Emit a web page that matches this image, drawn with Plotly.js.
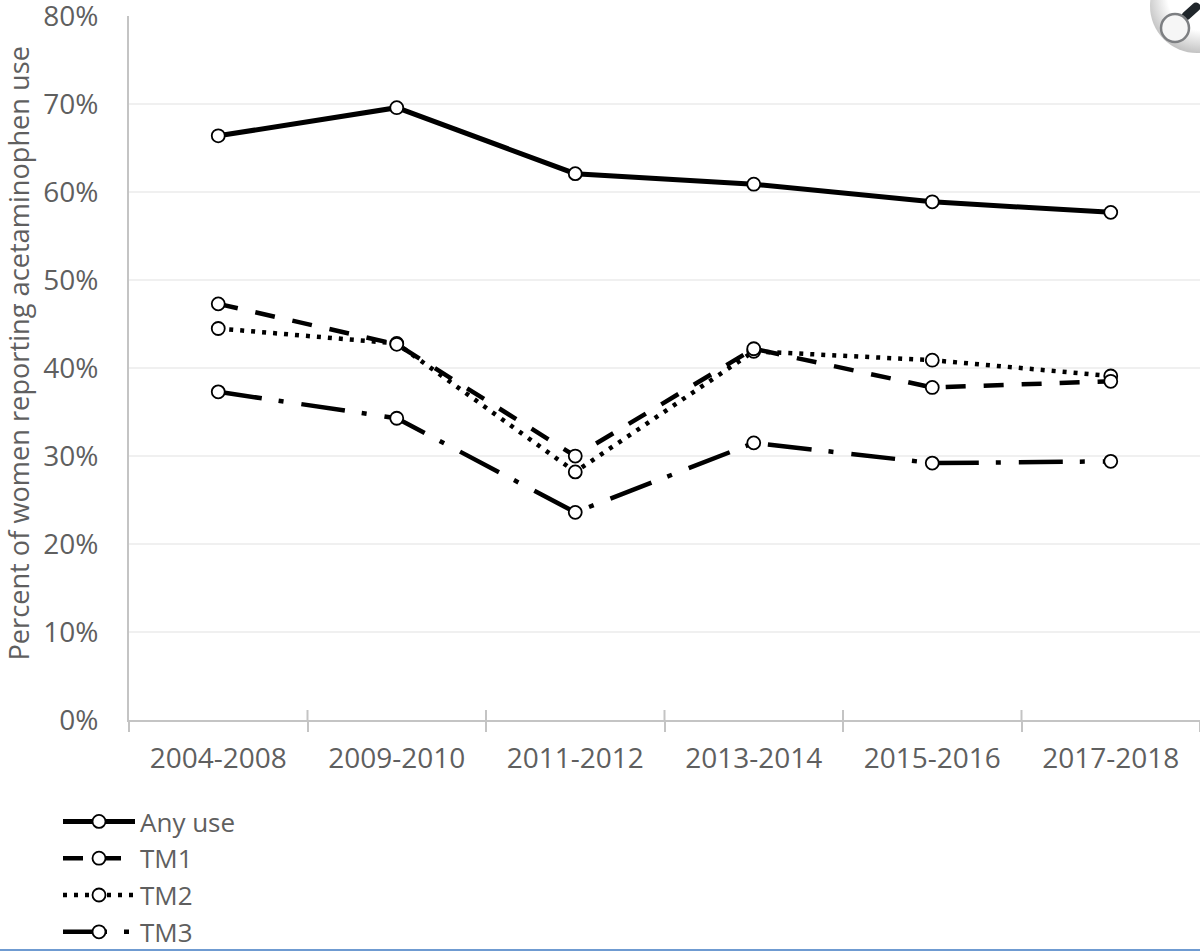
<!DOCTYPE html>
<html>
<head>
<meta charset="utf-8">
<script src="https://cdn.plot.ly/plotly-3.0.1.min.js"></script>
<style>
  html, body { margin: 0; padding: 0; background: #fff; overflow: hidden; }
  #chart { width: 1200px; height: 951px; }
</style>
</head>
<body>
<div id="chart"></div>
<script>
const periods = ['2004-2008', '2009-2010', '2011-2012', '2013-2014', '2015-2016', '2017-2018'];
const anyUse = [66.4, 69.6, 62.1, 60.9, 58.9, 57.7];
const tm1    = [47.3, 42.7, 30.0, 42.2, 37.8, 38.5];
const tm2    = [44.5, 42.8, 28.2, 41.9, 40.9, 39.1];
const tm3    = [37.3, 34.3, 23.6, 31.5, 29.2, 29.4];
const yTicks = [0, 10, 20, 30, 40, 50, 60, 70, 80];

const FONT = 'Open Sans, Noto Sans, sans-serif';
const GREY = '#5f5f5f';
const AXIS = '#c4c4c4';

function series(name, values, width, dash) {
  return {
    type: 'scatter',
    mode: 'lines+markers',
    name: name,
    x: periods,
    y: values,
    line: { color: '#000', width: width, dash: dash },
    marker: { size: 13, color: '#fff', line: { color: '#000', width: 1.8 } },
  };
}

const traces = [
  series('TM3', tm3, 4.5, '44px,17px,5px,18px'),
  series('TM2', tm2, 4.5, '4px,7px'),
  series('TM1', tm1, 4.5, '20px,18px'),
  series('Any use', anyUse, 5, 'solid'),
];

// magnifier badge in the top right corner
const badge = 'data:image/svg+xml,' + encodeURIComponent(
  '<svg xmlns="http://www.w3.org/2000/svg" width="60" height="60" viewBox="0 0 60 60">' +
  '<defs><radialGradient id="g" cx="0.55" cy="0.4" r="0.6">' +
  '<stop offset="0.6" stop-color="#ffffff"/><stop offset="1" stop-color="#c4c4c4"/></radialGradient></defs>' +
  '<circle cx="57" cy="6" r="47" fill="url(#g)"/>' +
  '<line x1="46" y1="16" x2="56" y2="7" stroke="#20262b" stroke-width="9" stroke-linecap="round"/>' +
  '<circle cx="35" cy="28" r="14" fill="#f6f6f6" stroke="#7d7f82" stroke-width="2.5"/>' +
  '</svg>'
);

const layout = {
  width: 1200,
  height: 951,
  paper_bgcolor: '#fff',
  plot_bgcolor: '#fff',
  font: { family: FONT, color: GREY, size: 28 },
  margin: { l: 129, r: 0, t: 16, b: 231, autoexpand: false },
  showlegend: true,
  legend: {
    x: -71 / 1071, xanchor: 'left',
    y: -78 / 704, yanchor: 'top', yref: 'paper',
    traceorder: 'reversed',
    itemwidth: 72,
    font: { family: FONT, size: 26, color: GREY },
    bgcolor: 'rgba(0,0,0,0)',
    tracegroupgap: 0,
  },
  xaxis: {
    type: 'category',
    categoryorder: 'array',
    categoryarray: periods,
    range: [-0.5, 5.5],
    tickson: 'boundaries',
    ticks: 'outside',
    ticklen: 10,
    tickwidth: 2,
    tickcolor: AXIS,
    ticklabelstandoff: 12,
    showgrid: false,
    showline: true,
    linecolor: AXIS,
    linewidth: 2,
    fixedrange: true,
    tickfont: { family: FONT, size: 28, color: GREY },
  },
  yaxis: {
    range: [0, 80.02],
    tickvals: yTicks,
    ticktext: yTicks.map(v => v + '%'),
    ticks: '',
    ticklabelstandoff: 23,
    ticklabeloverflow: 'allow',
    showgrid: true,
    gridcolor: '#f0f0f0',
    gridwidth: 1.5,
    zeroline: false,
    showline: true,
    linecolor: AXIS,
    linewidth: 2,
    fixedrange: true,
    tickfont: { family: FONT, size: 28, color: GREY },
  },
  annotations: [{
    text: 'Percent of women reporting acetaminophen use',
    xref: 'paper', yref: 'paper',
    x: -110.4 / 1071, y: (720 - 353) / 704,
    xanchor: 'center', yanchor: 'middle',
    textangle: -90,
    showarrow: false,
    font: { family: FONT, size: 27.2, color: GREY },
  }],
  shapes: [
    // the tick marks cross the x axis line, and the y axis line runs past it
    ...[0.5, 1.5, 2.5, 3.5, 4.5].map(v => ({
      type: 'line', xref: 'x', yref: 'paper', x0: v, x1: v, y0: 0, y1: 10 / 704,
      line: { color: AXIS, width: 2 },
    })),
    // blue window edge along the bottom
    { type: 'rect', xref: 'paper', yref: 'paper', layer: 'above',
      x0: -129 / 1071, x1: 1, y0: -231 / 704, y1: -229 / 704,
      fillcolor: '#6f9bd1', line: { width: 0 } },
  ],
  images: [{
    source: badge,
    xref: 'paper', yref: 'paper',
    x: 1, y: 1 + 16 / 704,
    sizex: 60 / 1071, sizey: 60 / 704,
    xanchor: 'right', yanchor: 'top',
    layer: 'above',
    sizing: 'stretch',
  }],
};

Plotly.newPlot('chart', traces, layout, { displayModeBar: false, staticPlot: true });
</script>
</body>
</html>
